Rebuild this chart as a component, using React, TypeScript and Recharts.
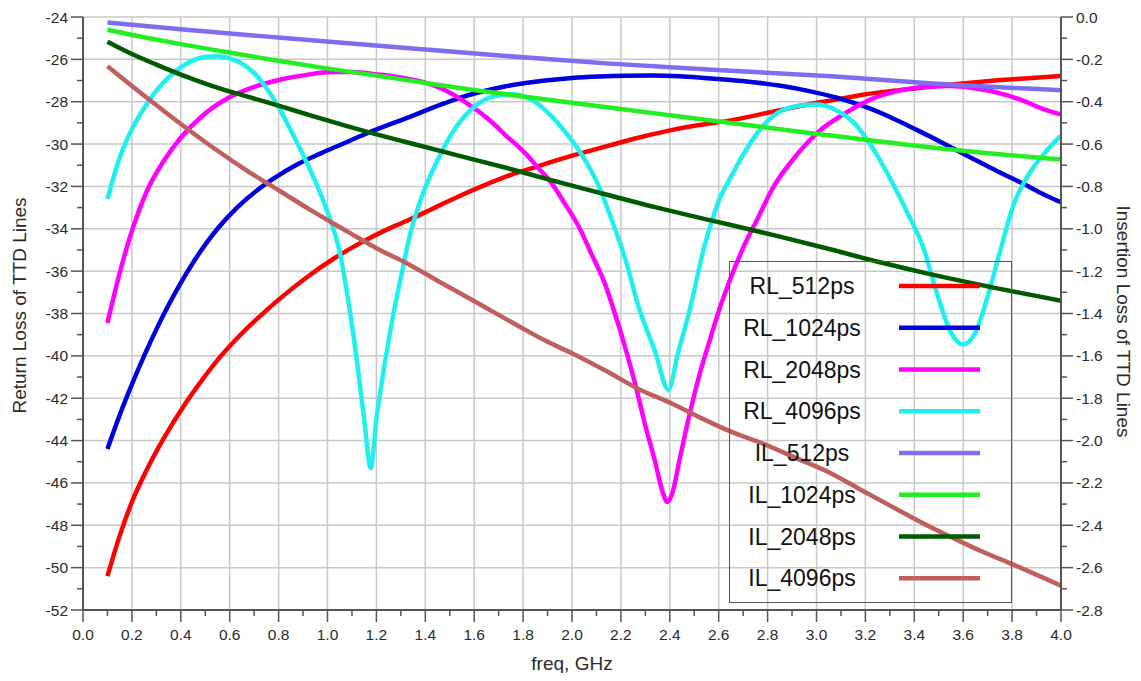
import React from 'react';
import { LineChart, Line, XAxis, YAxis, CartesianGrid, Legend, Label } from 'recharts';

const FONT = '"Liberation Sans", Arial, Helvetica, sans-serif';
const AXIS = '#555555';
const GRID = '#c8c8c8';
const TEXT = '#2a2a2a';

type Pt = [number, number];

// Return loss (dB) vs frequency (GHz)
const rl512: Pt[] = [
  [0.10, -50.4], [0.15, -48.5], [0.20, -46.9], [0.26, -45.4], [0.33, -43.9], [0.41, -42.4],
  [0.48, -41.25], [0.55, -40.2], [0.62, -39.3], [0.68, -38.6], [0.75, -37.85], [0.81, -37.25],
  [0.92, -36.25], [1.02, -35.45], [1.13, -34.7], [1.24, -34.05], [1.33, -33.6], [1.43, -33.05],
  [1.54, -32.45], [1.65, -31.9], [1.75, -31.45], [1.86, -31.05], [1.97, -30.65], [2.08, -30.3],
  [2.19, -29.95], [2.30, -29.62], [2.41, -29.33], [2.52, -29.1], [2.65, -28.88], [2.76, -28.62],
  [2.86, -28.38], [2.97, -28.12], [3.08, -27.9], [3.19, -27.67], [3.30, -27.5], [3.41, -27.36],
  [3.52, -27.22], [3.63, -27.1], [3.74, -26.99], [3.85, -26.9], [4.00, -26.78],
];

const rl1024: Pt[] = [
  [0.10, -44.4], [0.15, -42.8], [0.20, -41.35], [0.25, -40.0], [0.30, -38.75], [0.35, -37.6],
  [0.40, -36.55], [0.45, -35.6], [0.50, -34.75], [0.55, -34.0], [0.63, -33.0], [0.71, -32.2],
  [0.79, -31.55], [0.87, -31.0], [0.97, -30.45], [1.07, -29.95], [1.16, -29.5], [1.26, -29.05],
  [1.34, -28.7], [1.40, -28.42], [1.48, -28.07], [1.56, -27.75], [1.65, -27.47], [1.73, -27.27],
  [1.81, -27.12], [1.89, -27.0], [2.00, -26.88], [2.11, -26.81], [2.22, -26.77], [2.33, -26.76],
  [2.44, -26.8], [2.54, -26.88], [2.65, -26.98], [2.76, -27.1], [2.86, -27.26], [2.97, -27.5],
  [3.08, -27.8], [3.19, -28.2], [3.30, -28.72], [3.41, -29.33], [3.52, -29.97], [3.63, -30.63],
  [3.74, -31.28], [3.85, -31.9], [3.93, -32.38], [4.00, -32.75],
];

const rl2048: Pt[] = [
  [0.10, -38.45], [0.13, -37.0], [0.165, -35.45], [0.21, -33.75], [0.26, -32.25], [0.33, -30.8],
  [0.40, -29.7], [0.49, -28.65], [0.59, -27.85], [0.70, -27.3], [0.81, -26.95], [0.92, -26.72],
  [1.01, -26.6], [1.10, -26.6], [1.21, -26.72], [1.33, -26.92], [1.40, -27.1], [1.48, -27.45],
  [1.56, -28.0], [1.65, -28.75], [1.73, -29.6], [1.81, -30.45], [1.86, -31.1], [1.92, -31.9],
  [1.97, -32.8], [2.03, -33.95], [2.08, -35.2], [2.135, -36.6], [2.17, -37.8], [2.22, -39.7],
  [2.26, -41.4], [2.30, -43.3], [2.34, -45.0], [2.37, -46.4], [2.39, -46.9], [2.41, -46.5],
  [2.44, -44.9], [2.48, -42.8], [2.52, -40.95], [2.56, -39.4], [2.60, -37.9], [2.65, -36.3],
  [2.70, -34.9], [2.76, -33.5], [2.82, -32.1], [2.92, -30.5], [3.01, -29.4], [3.11, -28.6],
  [3.22, -27.9], [3.33, -27.5], [3.44, -27.3], [3.55, -27.26], [3.63, -27.34], [3.74, -27.57],
  [3.85, -27.97], [3.93, -28.36], [4.00, -28.6],
];

const rl4096: Pt[] = [
  [0.10, -32.6], [0.15, -30.65], [0.20, -29.3], [0.25, -28.3], [0.30, -27.48], [0.35, -26.85],
  [0.40, -26.38], [0.45, -26.05], [0.50, -25.88], [0.55, -25.85], [0.60, -25.95], [0.65, -26.2],
  [0.70, -26.65], [0.75, -27.35], [0.80, -28.25], [0.85, -29.35], [0.90, -30.5], [0.95, -31.75],
  [1.00, -33.2], [1.05, -35.1], [1.085, -37.4], [1.12, -40.2], [1.15, -43.0], [1.177, -45.3],
  [1.20, -43.0], [1.235, -40.3], [1.275, -37.7], [1.30, -36.3], [1.337, -34.3], [1.37, -33.0],
  [1.42, -31.5], [1.47, -30.3], [1.52, -29.3], [1.60, -28.25], [1.68, -27.75], [1.76, -27.65],
  [1.84, -27.95], [1.90, -28.5], [1.96, -29.25], [2.04, -30.5], [2.11, -32.0], [2.16, -33.5],
  [2.22, -35.5], [2.27, -37.6], [2.34, -39.8], [2.394, -41.6], [2.435, -39.8], [2.48, -37.9],
  [2.54, -34.9], [2.60, -32.7], [2.65, -31.55], [2.70, -30.5], [2.76, -29.45], [2.82, -28.7],
  [2.92, -28.2], [3.00, -28.13], [3.08, -28.4], [3.16, -29.07], [3.23, -30.2], [3.30, -31.6],
  [3.37, -33.2], [3.44, -35.0], [3.49, -36.95], [3.55, -38.9], [3.60, -39.46], [3.65, -38.9],
  [3.70, -37.2], [3.75, -35.1], [3.805, -32.9], [3.87, -31.4], [3.94, -30.33], [4.00, -29.6],
];

// Insertion loss (dB) vs frequency (GHz)
const il512: Pt[] = [
  [0.10, -0.026], [0.40, -0.058], [0.81, -0.098], [1.32, -0.146], [1.73, -0.184],
  [2.14, -0.219], [2.65, -0.254], [3.06, -0.28], [3.46, -0.313], [4.00, -0.346],
];

const il1024: Pt[] = [
  [0.10, -0.06], [0.26, -0.098], [0.40, -0.128], [0.60, -0.168], [0.81, -0.209], [1.01, -0.245],
  [1.22, -0.28], [1.42, -0.315], [1.62, -0.348], [1.83, -0.38], [2.03, -0.41], [2.24, -0.44],
  [2.44, -0.47], [2.65, -0.5], [2.85, -0.53], [3.06, -0.56], [3.26, -0.588], [3.46, -0.615],
  [3.67, -0.64], [4.00, -0.672],
];

const il2048: Pt[] = [
  [0.10, -0.117], [0.20, -0.175], [0.30, -0.225], [0.40, -0.272], [0.53, -0.326], [0.67, -0.375],
  [0.81, -0.422], [0.94, -0.468], [1.08, -0.515], [1.22, -0.56], [1.32, -0.59], [1.52, -0.65],
  [1.73, -0.712], [1.93, -0.775], [2.14, -0.838], [2.34, -0.898], [2.54, -0.953], [2.65, -0.982],
  [2.85, -1.037], [3.06, -1.098], [3.26, -1.158], [3.46, -1.213], [3.67, -1.265], [4.00, -1.34],
];

const il4096: Pt[] = [
  [0.10, -0.232], [0.26, -0.38], [0.40, -0.505], [0.53, -0.615], [0.67, -0.725], [0.81, -0.825],
  [0.94, -0.918], [1.08, -1.012], [1.22, -1.104], [1.32, -1.16], [1.45, -1.245], [1.59, -1.335],
  [1.79, -1.465], [1.89, -1.528], [2.00, -1.588], [2.14, -1.672], [2.27, -1.755], [2.41, -1.826],
  [2.54, -1.9], [2.65, -1.958], [2.78, -2.014], [2.92, -2.084], [3.06, -2.155], [3.19, -2.238],
  [3.33, -2.325], [3.46, -2.405], [3.60, -2.483], [3.67, -2.52], [3.81, -2.588], [4.00, -2.685],
];

// Axis ticks
const xMajorTicks = [0, 0.2, 0.4, 0.6, 0.8, 1.0, 1.2, 1.4, 1.6, 1.8, 2.0, 2.2, 2.4, 2.6, 2.8, 3.0, 3.2, 3.4, 3.6, 3.8, 4.0];
const xMinorTicks = [0.1, 0.3, 0.5, 0.7, 0.9, 1.1, 1.3, 1.5, 1.7, 1.9, 2.1, 2.3, 2.5, 2.7, 2.9, 3.1, 3.3, 3.5, 3.7, 3.9];
const rlMajorTicks = [-52, -50, -48, -46, -44, -42, -40, -38, -36, -34, -32, -30, -28, -26, -24];
const rlMinorTicks = [-51, -49, -47, -45, -43, -41, -39, -37, -35, -33, -31, -29, -27, -25];
const ilMajorTicks = [-2.8, -2.6, -2.4, -2.2, -2.0, -1.8, -1.6, -1.4, -1.2, -1.0, -0.8, -0.6, -0.4, -0.2, 0.0];
const ilMinorTicks = [-2.7, -2.5, -2.3, -2.1, -1.9, -1.7, -1.5, -1.3, -1.1, -0.9, -0.7, -0.5, -0.3, -0.1];

const series = [
  { name: 'RL_512ps', color: '#ff0000', axis: 'rl', pts: rl512 },
  { name: 'RL_1024ps', color: '#0000dd', axis: 'rl', pts: rl1024 },
  { name: 'RL_2048ps', color: '#ff00ff', axis: 'rl', pts: rl2048 },
  { name: 'RL_4096ps', color: '#1ef0f0', axis: 'rl', pts: rl4096 },
  { name: 'IL_512ps', color: '#7b6ef0', axis: 'il', pts: il512 },
  { name: 'IL_1024ps', color: '#22ee22', axis: 'il', pts: il1024 },
  { name: 'IL_2048ps', color: '#005a00', axis: 'il', pts: il2048 },
  { name: 'IL_4096ps', color: '#c0605e', axis: 'il', pts: il4096 },
];

const toRows = (pts: Pt[]) => pts.map(([f, v]) => ({ f, v }));
const isIn = (list: number[], v: number) => list.some((m) => Math.abs(m - v) < 1e-6);
const sorted = (a: number[], b: number[]) => [...a, ...b].sort((p, q) => p - q);

const TICK_FONT = 15.5;

const makeTick = (side: 'bottom' | 'left' | 'right', majors: number[], fmt: (v: number) => string) =>
  (props: any) => {
    const { x, y, payload } = props;
    const v = payload.value as number;
    const major = isIn(majors, v);
    const len = major ? 12 : 6;
    if (side === 'bottom') {
      return (
        <g>
          <line x1={x} y1={y} x2={x} y2={y + len} stroke={AXIS} strokeWidth={1.5} />
          {major && (
            <text x={x} y={y + 30} textAnchor="middle" fontSize={TICK_FONT} fontFamily={FONT} fill={TEXT}>
              {fmt(v)}
            </text>
          )}
        </g>
      );
    }
    const dir = side === 'left' ? -1 : 1;
    return (
      <g>
        <line x1={x} y1={y} x2={x + dir * len} y2={y} stroke={AXIS} strokeWidth={1.5} />
        {major && (
          <text
            x={x + dir * 15}
            y={y + 5.5}
            textAnchor={side === 'left' ? 'end' : 'start'}
            fontSize={TICK_FONT}
            fontFamily={FONT}
            fill={TEXT}
          >
            {fmt(v)}
          </text>
        )}
      </g>
    );
  };

const XTick = makeTick('bottom', xMajorTicks, (v) => v.toFixed(1));
const RLTick = makeTick('left', rlMajorTicks, (v) => String(Math.round(v)));
const ILTick = makeTick('right', ilMajorTicks, (v) => (Math.abs(v) < 1e-9 ? '0.0' : v.toFixed(1)));

const TITLE_FONT = 19;

// Legend drawn in the series' own order, inside a framed box over the plot
const LegendBox = () => (
  <div style={{ width: 283, height: 342, border: `1.5px solid ${AXIS}`, boxSizing: 'border-box' }}>
    <svg width={280} height={339} style={{ display: 'block' }}>
      {series.map((s, i) => {
        const cy = 24 + i * 41.75;
        return (
          <g key={s.name}>
            <text x={72} y={cy + 8} textAnchor="middle" fontSize={23} fontFamily={FONT} fill="#111">
              {s.name}
            </text>
            <line x1={169} x2={250} y1={cy} y2={cy} stroke={s.color} strokeWidth={4.5} />
          </g>
        );
      })}
    </svg>
  </div>
);

export default function App() {
  return (
    <LineChart width={1125} height={665} margin={{ top: 9, right: 0, bottom: 0, left: 0 }}>
      <CartesianGrid
        yAxisId="rl"
        stroke={GRID}
        strokeWidth={1.5}
        verticalValues={xMajorTicks.filter((v) => v > 0 && v < 4)}
        horizontalValues={rlMajorTicks.filter((v) => v > -52)}
      />
      <XAxis
        dataKey="f"
        type="number"
        domain={[0, 4]}
        allowDataOverflow
        ticks={sorted(xMajorTicks, xMinorTicks)}
        interval={0}
        height={63}
        tickSize={0}
        tickMargin={0}
        tickLine={false}
        axisLine={{ stroke: AXIS, strokeWidth: 2 }}
        tick={XTick}
      >
        <Label
          content={(p: any) => {
            const vb = p.viewBox;
            return (
              <text x={vb.x + vb.width / 2} y={vb.y + 60} textAnchor="middle" fontSize={TITLE_FONT} fontFamily={FONT} fill={TEXT}>
                freq, GHz
              </text>
            );
          }}
        />
      </XAxis>
      <YAxis
        yAxisId="rl"
        orientation="left"
        type="number"
        domain={[-52, -24]}
        allowDataOverflow
        ticks={sorted(rlMajorTicks, rlMinorTicks)}
        interval={0}
        width={75}
        tickSize={0}
        tickMargin={0}
        tickLine={false}
        axisLine={{ stroke: AXIS, strokeWidth: 2 }}
        tick={RLTick}
      >
        <Label
          content={(p: any) => {
            const vb = p.viewBox;
            const cx = vb.x + 11;
            const cy = vb.y + vb.height / 2 - 8;
            return (
              <text
                x={cx}
                y={cy}
                transform={`rotate(-90 ${cx} ${cy})`}
                textAnchor="middle"
                dominantBaseline="central"
                fontSize={TITLE_FONT}
                fontFamily={FONT}
                fill={TEXT}
              >
                Return Loss of TTD Lines
              </text>
            );
          }}
        />
      </YAxis>
      <YAxis
        yAxisId="il"
        orientation="right"
        type="number"
        domain={[-2.8, 0]}
        allowDataOverflow
        ticks={sorted(ilMajorTicks, ilMinorTicks)}
        interval={0}
        width={72}
        tickSize={0}
        tickMargin={0}
        tickLine={false}
        axisLine={{ stroke: AXIS, strokeWidth: 2 }}
        tick={ILTick}
      >
        <Label
          content={(p: any) => {
            const vb = p.viewBox;
            const cx = vb.x + 62;
            const cy = vb.y + vb.height / 2 + 8;
            return (
              <text
                x={cx}
                y={cy}
                transform={`rotate(90 ${cx} ${cy})`}
                textAnchor="middle"
                dominantBaseline="central"
                fontSize={TITLE_FONT}
                fontFamily={FONT}
                fill={TEXT}
              >
                Insertion Loss of TTD Lines
              </text>
            );
          }}
        />
      </YAxis>
      {series.map((s) => (
        <Line
          key={s.name}
          name={s.name}
          data={toRows(s.pts)}
          dataKey="v"
          yAxisId={s.axis}
          type="monotone"
          stroke={s.color}
          strokeWidth={4.5}
          dot={false}
          activeDot={false}
          isAnimationActive={false}
        />
      ))}
      <Legend
        layout="vertical"
        align="center"
        verticalAlign="middle"
        wrapperStyle={{ left: 721, top: 253, width: 283, height: 342 }}
        content={LegendBox}
      />
    </LineChart>
  );
}
